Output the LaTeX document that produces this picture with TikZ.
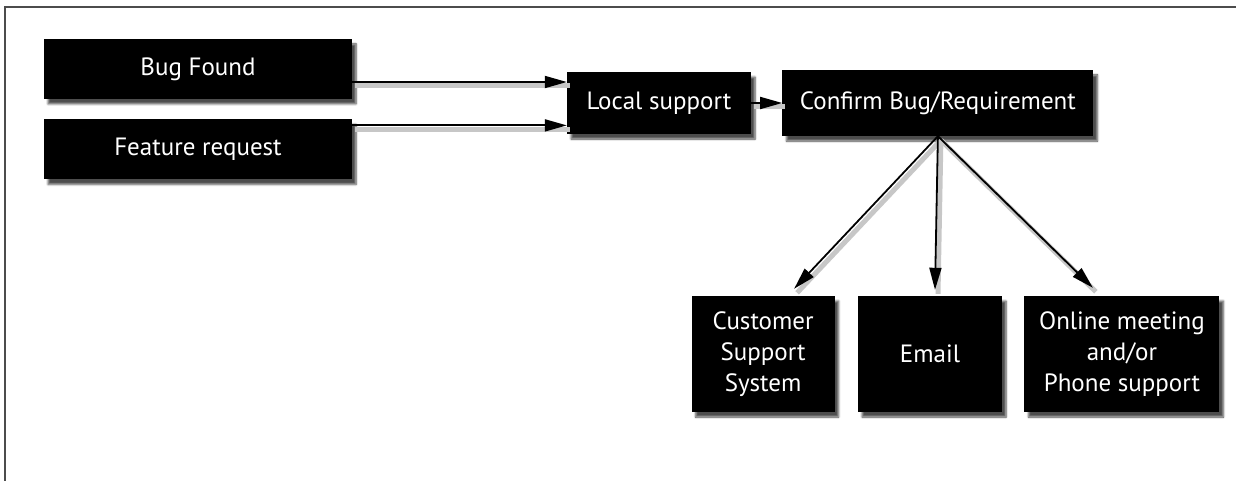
\documentclass[tikz,border=0pt]{standalone}
\usepackage{fontspec}
\setmainfont{PT Sans}
\usetikzlibrary{positioning, arrows.meta, shadows.blur}

\begin{document}
\begin{tikzpicture}[
    x=1pt, y=-1pt,
    node distance=20pt,
    every node/.style={fill=black, text=white, inner sep=0pt, align=center,
        font=\fontsize{25}{31}\selectfont,
        blur shadow={shadow xshift=4pt, shadow yshift=-5pt, shadow blur steps=6, shadow opacity=70}},
    source/.style={minimum width=308pt, minimum height=60pt},
    support/.style={minimum height=62pt},
    channel/.style={minimum height=116pt},
    link/.style={-{Triangle[length=22pt, width=12pt]}, line width=1.8pt,
        preaction={draw=black!22, line width=5pt, -, transform canvas={xshift=3pt, yshift=-4pt}}}
]
\useasboundingbox (0,0) rectangle (1236,481);

% Cadre
\draw[black!70, line width=1.5pt] (5,481) -- (5,7) -- (1236,7);

% Demandes
\node[source] (bug) at (198,69) {Bug Found};
\node[source, below=of bug] (feature) {Feature request};

% Support
\node[support, minimum width=184pt] (local) at (659,103) {Local support};
\node[support, minimum width=311pt, minimum height=66pt, right=31pt of local] (confirm) {Confirm Bug/Requirement};

% Canaux
\node[channel, minimum width=144pt] (email) at (930,354) {Email};
\node[channel, minimum width=143pt, left=23pt of email] (customer) {Customer\\ Support\\ System};
\node[channel, minimum width=195pt, right=22pt of email] (online) {Online meeting\\ and/or\\ Phone support};

% Liens
\coordinate (bugout) at ([yshift=-13pt]bug.east);
\coordinate (featureout) at ([yshift=24pt]feature.east);
\coordinate (custin) at ([xshift=31pt, yshift=7pt]customer.north);
\coordinate (emailin) at ([xshift=5pt, yshift=6pt]email.north);
\coordinate (onlinein) at ([xshift=-29pt, yshift=8pt]online.north);

\draw[link] (bugout) -- (bugout -| local.west);
\draw[link] (featureout) -- (featureout -| local.west);
\draw[link] (local) -- (confirm);
\draw[link] (confirm.south) -- (custin);
\draw[link] (confirm.south) -- (emailin);
\draw[link] (confirm.south) -- (onlinein);

\end{tikzpicture}
\end{document}
